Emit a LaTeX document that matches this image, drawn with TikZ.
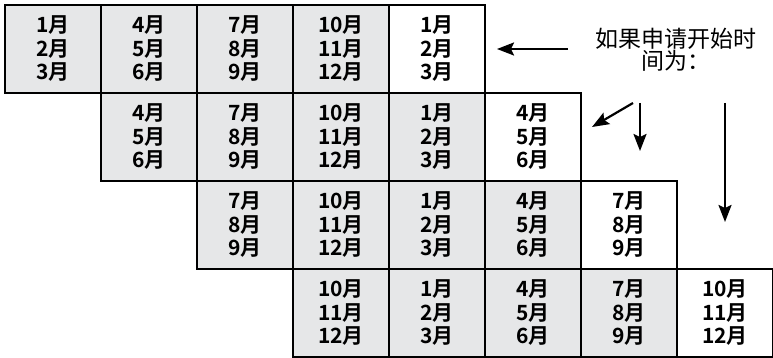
\documentclass[tikz,border=0pt]{standalone}
\usepackage{fontspec}
\setmainfont{Noto Sans CJK SC}
\newfontfamily\cjkbold{Noto Sans CJK SC Bold}
\usetikzlibrary{arrows.meta}
\definecolor{cellgray}{HTML}{E6E7E8}
\tikzset{
  cell/.style={draw=black, line width=2pt, minimum width=96pt, minimum height=88pt,
    inner sep=0pt, align=center, anchor=north west,
    font=\cjkbold\fontsize{21}{23.5}\selectfont},
  grayc/.style={cell, fill=cellgray},
  whitec/.style={cell, fill=white},
  arr/.style={line width=2.2pt, -{Stealth[length=17pt,width=13pt,inset=3pt]}},
  note/.style={align=center, font=\fontsize{23}{22}\selectfont}
}
\begin{document}
\begin{tikzpicture}[x=1pt,y=-1pt]
\useasboundingbox (0,0) rectangle (773,358);
\foreach \r in {0,1,2,3}{
  \foreach \c in {0,...,4}{
    \pgfmathtruncatemacro{\col}{\r+\c}
    \pgfmathtruncatemacro{\g}{mod(\col,4)}
    \pgfmathtruncatemacro{\ma}{3*\g+1}
    \pgfmathtruncatemacro{\mb}{3*\g+2}
    \pgfmathtruncatemacro{\mc}{3*\g+3}
    \ifnum\c=4
      \node[whitec] (c\r\col) at ({4+96*\col},{4+88*\r}) {\ma 月\\\mb 月\\\mc 月};
    \else
      \node[grayc] (c\r\col) at ({4+96*\col},{4+88*\r}) {\ma 月\\\mb 月\\\mc 月};
    \fi
  }
}
\node[note] (lab) at (676,49.5) {如果申请开始时\\间为：};
\coordinate (a1s) at (568,49);
\coordinate (a1e) at (497,49);
\coordinate (a2s) at (633,103);
\coordinate (a2e) at (592,127);
\coordinate (a3s) at (640,103);
\coordinate (a3e) at (640,151);
\coordinate (a4s) at (725,103);
\coordinate (a4e) at (725,222);
\draw[arr] (a1s) -- (a1e);
\draw[arr] (a2s) -- (a2e);
\draw[arr] (a3s) -- (a3e);
\draw[arr] (a4s) -- (a4e);
\end{tikzpicture}
\end{document}
